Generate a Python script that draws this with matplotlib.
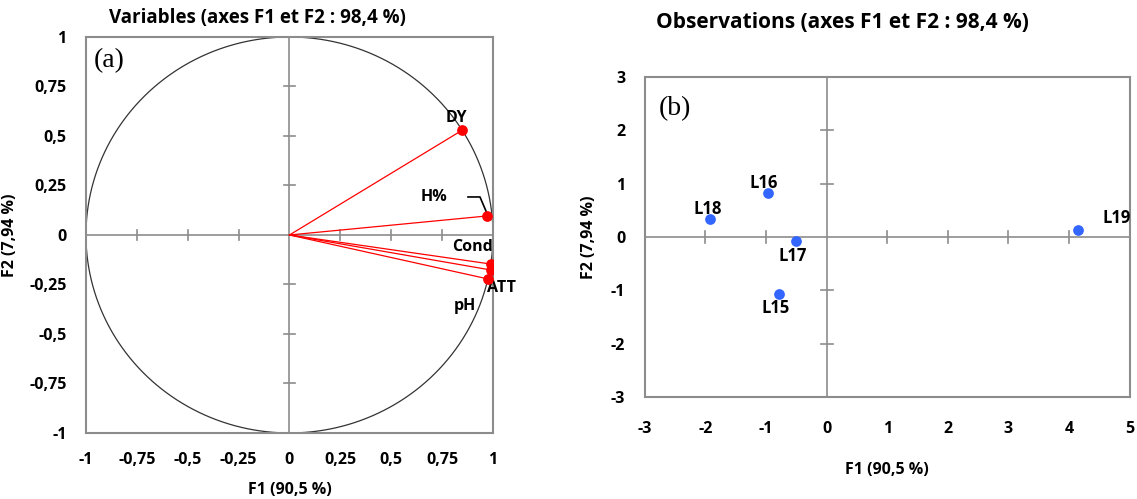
import matplotlib.pyplot as plt
import numpy as np

plt.rcParams['font.family'] = ['Open Sans', 'DejaVu Sans']

# Variables (correlation circle)
var_names = ["DY", "H%", "Cond", "ATT", "pH"]
var_f1 = [0.85, 0.97, 0.99, 0.99, 0.975]
var_f2 = [0.53, 0.096, -0.147, -0.177, -0.222]
var_lab_x = [0.82, 0.71, 0.90, 0.97, 0.86]
var_lab_y = [0.59, 0.19, -0.06, -0.27, -0.36]

# Observations
obs_names = ["L15", "L16", "L17", "L18", "L19"]
obs_f1 = [-0.79, -0.96, -0.51, -1.93, 4.14]
obs_f2 = [-1.07, 0.83, -0.08, 0.34, 0.13]
obs_lab_x = [-0.84, -1.04, -0.56, -1.96, 4.78]
obs_lab_y = [-1.33, 1.01, -0.36, 0.53, 0.36]

left_ticks = [-1, -0.75, -0.5, -0.25, 0, 0.25, 0.5, 0.75, 1]
left_ticklabels = ["-1", "-0,75", "-0,5", "-0,25", "0", "0,25", "0,5", "0,75", "1"]
right_xticks = [-3, -2, -1, 0, 1, 2, 3, 4, 5]
right_yticks = [-3, -2, -1, 0, 1, 2, 3]

gray = "#8c8c8c"
fig = plt.figure(figsize=(11.37, 4.99), dpi=100)


def setup(ax, xt, yt, xl, yl, xlim, ylim, tick_len_x, tick_len_y):
    ax.set_xlim(xlim)
    ax.set_ylim(ylim)
    for s in ax.spines.values():
        s.set_color(gray)
        s.set_linewidth(1.5)
    ax.axhline(0, color=gray, lw=1.2, zorder=1)
    ax.axvline(0, color=gray, lw=1.2, zorder=1)
    # small crossing ticks on the central axes
    for t in xt:
        if t not in (xlim[0], xlim[1], 0):
            ax.plot([t, t], [-tick_len_y, tick_len_y], color=gray, lw=1.2, zorder=1)
    for t in yt:
        if t not in (ylim[0], ylim[1], 0):
            ax.plot([-tick_len_x, tick_len_x], [t, t], color=gray, lw=1.2, zorder=1)
    ax.set_xticks(xt)
    ax.set_yticks(yt)
    ax.set_xticklabels(xl, fontweight="bold", fontsize=11.5)
    ax.set_yticklabels(yl, fontweight="bold", fontsize=11.5)
    ax.tick_params(length=0, pad=14)


# ---- left: correlation circle
ax1 = fig.add_axes([0.0756, 0.1323, 0.358, 0.7936])
setup(ax1, left_ticks, left_ticks, left_ticklabels, left_ticklabels,
      (-1, 1), (-1, 1), 0.025, 0.025)
th = np.linspace(0, 2 * np.pi, 400)
ax1.plot(np.cos(th), np.sin(th), color="#333333", lw=0.9, zorder=2)
for x, y in zip(var_f1, var_f2):
    ax1.plot([0, x], [0, y], color="#ff0000", lw=0.9, zorder=3)
ax1.scatter(var_f1, var_f2, s=45, color="#ff0000", zorder=4)
for n, x, y in zip(var_names, var_lab_x, var_lab_y):
    ha = "left" if n == "ATT" else "center"
    ax1.text(x, y, n, ha=ha, va="center", fontweight="bold", fontsize=11.5)
# leader line for H%
ax1.plot([0.877, 0.936, 0.97], [0.192, 0.192, 0.11], color="black", lw=1.2, zorder=3)
ax1.text(0.02, 0.94, "(a)", transform=ax1.transAxes, family="Liberation Serif",
         fontsize=20, va="center")
ax1.set_xlabel("F1 (90,5 %)", fontweight="bold", fontsize=11.5, labelpad=10)
ax1.set_ylabel("F2 (7,94 %)", fontweight="bold", fontsize=11.5, labelpad=8)
fig.text(257 / 1137, 1 - 18 / 499, "Variables (axes F1 et F2 : 98,4 %)",
         ha="center", va="center", fontweight="bold", fontsize=13.5)

# ---- right: observations
ax2 = fig.add_axes([0.567, 0.2044, 0.4266, 0.6413])
setup(ax2, right_xticks, right_yticks, [str(t) for t in right_xticks],
      [str(t) for t in right_yticks], (-3, 5), (-3, 3), 0.1, 0.12)
ax2.tick_params(axis="x", pad=17)
ax2.scatter(obs_f1, obs_f2, s=45, color="#3366ff", zorder=4)
for n, x, y in zip(obs_names, obs_lab_x, obs_lab_y):
    ax2.text(x, y, n, ha="center", va="center", fontweight="bold", fontsize=12)
ax2.text(0.03, 0.9, "(b)", transform=ax2.transAxes, family="Liberation Serif",
         fontsize=20, va="center")
ax2.set_xlabel("F1 (90,5 %)", fontweight="bold", fontsize=11.5, labelpad=18)
ax2.set_ylabel("F2 (7,94 %)", fontweight="bold", fontsize=11.5, labelpad=10)
fig.text(842 / 1137, 1 - 22 / 499, "Observations (axes F1 et F2 : 98,4 %)",
         ha="center", va="center", fontweight="bold", fontsize=15)

fig.savefig("out.png", dpi=100)
